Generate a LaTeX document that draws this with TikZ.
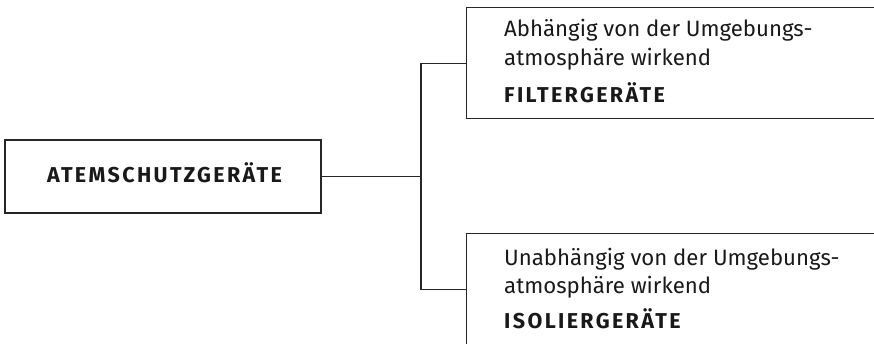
\documentclass[tikz,border=0pt]{standalone}
\usepackage{fontspec}
\setmainfont{Fira Sans}
\newfontfamily\capsfont[LetterSpace=11]{Fira Sans Bold}
\begin{document}
\begin{tikzpicture}[x=1bp,y=-1bp,
  boxstyle/.style={draw=black!85, line width=1.2bp, rectangle, inner sep=0pt},
  conn/.style={draw=black!85, line width=1.2bp},
  plain/.style={anchor=base west, inner sep=0pt, font=\fontsize{22.2bp}{26bp}\selectfont, text=black!90},
  heading/.style={anchor=base west, inner sep=0pt, font=\fontsize{21.5bp}{26bp}\capsfont, text=black!90}]
\useasboundingbox (0,0) rectangle (874,343);
\clip (0,0) rectangle (874,343);
\node[boxstyle, minimum width=316bp, minimum height=73bp] (root) at (163,176.5) {};
\node[boxstyle, minimum width=420bp, minimum height=111bp, anchor=north west] (filter) at (466,7) {};
\node[boxstyle, minimum width=420bp, minimum height=111bp, anchor=north west] (iso) at (466,233) {};
\coordinate (fork) at (421,176.5);
\node[anchor=base, inner sep=0pt, font=\fontsize{21.5bp}{26bp}\capsfont, text=black!90] (roott) at (164.5,182.3) {ATEMSCHUTZGERÄTE};
\node[plain] (f1) at (504,36.7) {Abhängig von der Umgebungs-};
\node[plain] (f2) at (504,65) {atmosphäre wirkend};
\node[heading] (f3) at (504,102.3) {FILTERGERÄTE};
\node[plain] (i1) at (504,265) {Unabhängig von der Umgebungs-};
\node[plain] (i2) at (504,293.3) {atmosphäre wirkend};
\node[heading] (i3) at (504,328) {ISOLIERGERÄTE};
\draw[conn] (root.east) -- (fork);
\draw[conn] (fork) |- (filter.west);
\draw[conn] (fork) |- (iso.west);
\end{tikzpicture}
\end{document}
